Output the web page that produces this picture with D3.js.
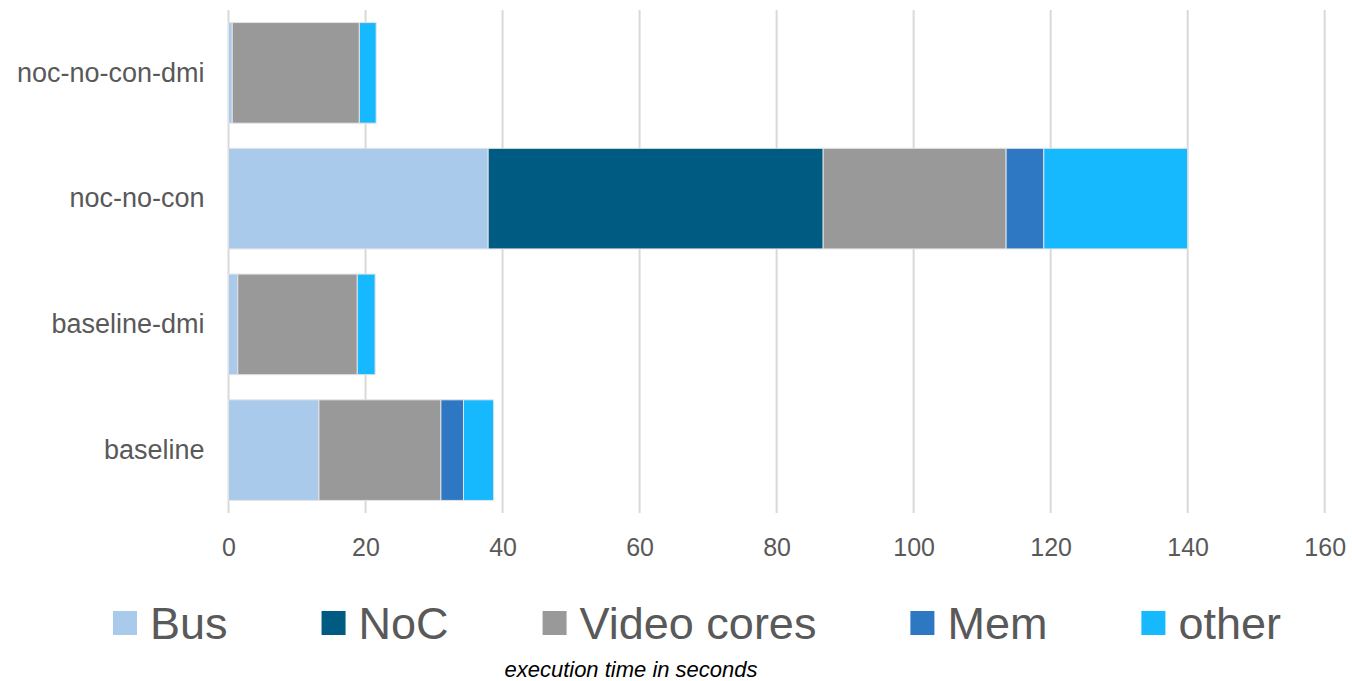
<!DOCTYPE html>
<html>
<head>
<meta charset="utf-8">
<script src="https://cdn.jsdelivr.net/npm/d3@7"></script>
<style>
  html, body { margin: 0; padding: 0; background: #fff; }
  svg { display: block; }
  text { font-family: "Liberation Sans", Arial, sans-serif; }
</style>
</head>
<body>
<svg id="chart" width="1352" height="681"></svg>
<script>
// Configurations, listed top to bottom
const configs = ["noc-no-con-dmi", "noc-no-con", "baseline-dmi", "baseline"];

// Execution time components (seconds), one array per component
const busTime   = [0.55, 37.9, 1.35, 13.2];
const nocTime   = [0,    48.9, 0,    0];
const videoTime = [18.55, 26.7, 17.45, 17.8];
const memTime   = [0,    5.5,  0,    3.3];
const otherTime = [2.45, 21.0, 2.6,  4.4];

const seriesNames  = ["Bus", "NoC", "Video cores", "Mem", "other"];
const seriesColors = ["#a9caea", "#005b82", "#999999", "#2e77c3", "#17b9fe"];

const xTicks = [0, 20, 40, 60, 80, 100, 120, 140, 160];
const axisTitle = "execution time in seconds";

// Build rows for the stack layout
const rows = configs.map((c, i) => ({
  config: c,
  "Bus": busTime[i],
  "NoC": nocTime[i],
  "Video cores": videoTime[i],
  "Mem": memTime[i],
  "other": otherTime[i]
}));

const svg = d3.select("#chart");
const plot = { left: 228.5, right: 1324.7, top: 10, bottom: 513 };

const x = d3.scaleLinear().domain([0, 160]).range([plot.left, plot.right]);
const y = d3.scaleBand().domain(configs).range([plot.top, plot.bottom]).paddingInner(0.2).paddingOuter(0.1);
const color = d3.scaleOrdinal().domain(seriesNames).range(seriesColors);

// Vertical gridlines
svg.append("g")
  .selectAll("line")
  .data(xTicks)
  .join("line")
  .attr("x1", d => x(d)).attr("x2", d => x(d))
  .attr("y1", plot.top).attr("y2", plot.bottom)
  .attr("stroke", "#d9d9d9")
  .attr("stroke-width", 2);

// Stacked bars
const stacked = d3.stack().keys(seriesNames)(rows);
svg.append("g")
  .selectAll("g")
  .data(stacked)
  .join("g")
  .attr("fill", s => color(s.key))
  .selectAll("rect")
  .data(s => s.filter(d => d[1] - d[0] > 0))
  .join("rect")
  .attr("x", d => x(d[0]))
  .attr("width", d => x(d[1]) - x(d[0]))
  .attr("y", d => y(d.data.config))
  .attr("height", y.bandwidth())
  .attr("stroke", "#e3e3e3")
  .attr("stroke-width", 1);

// X axis tick labels
const xAxis = d3.axisBottom(x).tickValues(xTicks).tickSize(0).tickPadding(0);
const gx = svg.append("g")
  .attr("transform", `translate(0,${plot.bottom})`)
  .call(xAxis);
gx.select(".domain").remove();
gx.selectAll("text")
  .attr("dy", null)
  .attr("y", 43)
  .attr("fill", "#595959")
  .style("font-size", "25px")
  .style("font-family", "'Liberation Sans', Arial, sans-serif");

// Y axis category labels
const yAxis = d3.axisLeft(y).tickSize(0).tickPadding(24);
const gy = svg.append("g")
  .attr("transform", `translate(${plot.left},0)`)
  .call(yAxis);
gy.select(".domain").remove();
gy.selectAll("text")
  .attr("fill", "#595959")
  .style("font-size", "27px")
  .style("font-family", "'Liberation Sans', Arial, sans-serif");

// Legend, laid out left to right
const legend = svg.append("g").attr("transform", "translate(113,611)");
let cursor = 0;
seriesNames.forEach((name, i) => {
  const item = legend.append("g").attr("transform", `translate(${cursor},0)`);
  item.append("rect")
    .attr("width", 24).attr("height", 24)
    .attr("fill", color(name));
  const t = item.append("text")
    .attr("x", 37).attr("y", 28)
    .attr("fill", "#595959")
    .style("font-size", "45px")
    .text(name);
  cursor += 37 + t.node().getComputedTextLength() + 94;
});

// Axis title
svg.append("text")
  .attr("x", 631).attr("y", 677)
  .attr("text-anchor", "middle")
  .attr("fill", "#000")
  .style("font-size", "22px")
  .style("font-style", "italic")
  .text(axisTitle);
</script>
</body>
</html>
